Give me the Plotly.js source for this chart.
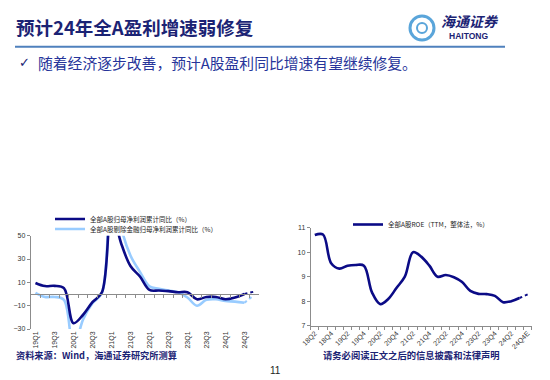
<!DOCTYPE html>
<html><head><meta charset="utf-8">
<script src="https://cdn.plot.ly/plotly-3.0.1.min.js"></script>
<style>html,body{margin:0;padding:0;background:#fff;} #chart{width:550px;height:380px;}</style>
</head><body><div id="chart"></div>
<script>
// ---- data ----
const quartersL = ['19Q1','19Q2','19Q3','19Q4','20Q1','20Q2','20Q3','20Q4','21Q1','21Q2','21Q3','21Q4','22Q1','22Q2','22Q3','22Q4','23Q1','23Q2','23Q3','23Q4','24Q1','24Q2','24Q3','24Q4E'];
const profitAll   = [9.5, 6.8, 7.0, 5.0, -25, -18, -7, 1.5, 72, 44, 24, 15, 3.5, 3.0, 2.5, 1.5, 1.5, -4.5, -2.5, -2.5, -4.5, -3.0, 0.0, 2.0];
const profitExFin = [1.0, -2.5, -2.5, -5.0, -48, -22, -8, 1.0, 115, 58, 33, 19, 6.5, 4.5, 3.0, 1.5, -3.0, -10, -5.0, -4.5, -6.0, -6.5, -7.5, -1.0];
const quartersR = ['18Q2','18Q3','18Q4','19Q1','19Q2','19Q3','19Q4','20Q1','20Q2','20Q3','20Q4','21Q1','21Q2','21Q3','21Q4','22Q1','22Q2','22Q3','22Q4','23Q1','23Q2','23Q3','23Q4','24Q1','24Q2','24Q3','24Q4E'];
const roeAll = [10.70, 10.72, 9.55, 9.33, 9.45, 9.48, 9.45, 8.35, 7.88, 8.10, 8.55, 9.00, 10.00, 9.82, 9.45, 9.00, 9.07, 8.98, 8.78, 8.42, 8.30, 8.29, 8.22, 7.96, 8.00, 8.13, 8.28];
const nameAll = '全部A股归母净利润累计同比（%）';
const nameExFin = '全部A股剔除金融归母净利润累计同比（%）';
const nameRoe = '全部A股ROE（TTM，整体法，%）';
const labelsL = quartersL.filter((q,i)=>i%2===0);
const labelsR = quartersR.map((q,i)=>i%2===0?q:'');

// ---- styling ----
const DARK = '#0B0B86', LIGHT = '#99CCFF', AX = '#8C8C8C';
const CJK = '"Noto Sans CJK SC", "Liberation Sans", sans-serif';
const LAT = '"Liberation Sans", Arial, sans-serif';
const px = v => v/550, py = v => 1 - v/380;
const nL = quartersL.length, nR = quartersR.length;

const traces = [
  {x: quartersL.slice(0, nL-1), y: profitExFin.slice(0, nL-1), xaxis:'x', yaxis:'y', mode:'lines', name: nameExFin,
   line:{color:LIGHT, width:2.6, shape:'spline', smoothing:1}, legend:'legend2', hoverinfo:'skip'},
  {x: quartersL.slice(nL-2), y: profitExFin.slice(nL-2), xaxis:'x', yaxis:'y', mode:'lines', showlegend:false,
   line:{color:LIGHT, width:2, dash:'dot'}, hoverinfo:'skip'},
  {x: quartersL.slice(0, nL-1), y: profitAll.slice(0, nL-1), xaxis:'x3', yaxis:'y', mode:'lines', name: nameAll,
   line:{color:DARK, width:2.6, shape:'spline', smoothing:1}, legend:'legend', hoverinfo:'skip'},
  {x: quartersL.slice(nL-2), y: profitAll.slice(nL-2), xaxis:'x3', yaxis:'y', mode:'lines', showlegend:false,
   line:{color:DARK, width:2, dash:'dot'}, hoverinfo:'skip'},
  {x: quartersR.slice(0, nR-1), y: roeAll.slice(0, nR-1), xaxis:'x2', yaxis:'y2', mode:'lines', name: nameRoe,
   line:{color:DARK, width:2.6, shape:'spline', smoothing:1}, legend:'legend3', hoverinfo:'skip'},
  {x: quartersR.slice(nR-2), y: roeAll.slice(nR-2), xaxis:'x2', yaxis:'y2', mode:'lines', showlegend:false,
   line:{color:DARK, width:2, dash:'dot'}, hoverinfo:'skip'}
];

const tickFont = {family: LAT, size: 7, color: '#333'};
const legFont = {family: CJK, size: 6.5, color: '#222'};
const legBase = {xanchor:'left', yanchor:'middle', bgcolor:'rgba(0,0,0,0)', font: legFont, itemwidth:30, borderwidth:0};

const layout = {
  width: 550, height: 380, margin:{l:0,r:0,t:0,b:0}, paper_bgcolor:'#fff', plot_bgcolor:'rgba(0,0,0,0)',
  font:{family: LAT},
  xaxis: {domain:[px(30.7), px(258.7)], anchor:'y', type:'category', range:[-0.5, nL-0.5],
    tickmode:'array', tickvals: labelsL, ticktext: labelsL, tickangle:-90, ticks:'', showline:false,
    showgrid:false, zeroline:false, tickfont: tickFont},
  xaxis3: {overlaying:'x', anchor:'free', position: py(294.2), type:'category', range:[-0.5, nL-0.5],
    tickmode:'array', tickvals: quartersL, tickson:'boundaries', ticks:'outside', ticklen:3, tickcolor:AX,
    showticklabels:false, showline:true, linecolor:AX, linewidth:1, showgrid:false, zeroline:false},
  yaxis: {domain:[py(329), py(235.7)], anchor:'x', range:[-30, 50], tickmode:'linear', tick0:-30, dtick:20,
    showline:true, linecolor:AX, ticks:'outside', ticklen:3, tickcolor:AX, showgrid:false, zeroline:false, tickfont: tickFont},
  xaxis2: {domain:[px(310.7), px(531.7)], anchor:'y2', type:'category', range:[-0.5, nR-0.5],
    tickmode:'array', tickvals: quartersR, ticktext: labelsR, tickson:'boundaries', tickangle:-45,
    ticks:'outside', ticklen:3, tickcolor:AX, showline:true, linecolor:AX, showgrid:false, zeroline:false, tickfont: tickFont},
  yaxis2: {domain:[py(325.7), py(227.7)], anchor:'x2', range:[7, 11], tickmode:'linear', tick0:7, dtick:1,
    showline:true, linecolor:AX, ticks:'outside', ticklen:3, tickcolor:AX, showgrid:false, zeroline:false, tickfont: tickFont},
  legend: Object.assign({x: px(50), y: py(219)}, legBase),
  legend2: Object.assign({x: px(50), y: py(229)}, legBase),
  legend3: Object.assign({x: px(348), y: py(224.5)}, legBase),
  shapes: [
    {type:'line', xref:'paper', yref:'paper', x0:px(15), x1:px(505), y0:py(46.7), y1:py(46.7), line:{color:'#4F81BD', width:2}},
    {type:'circle', xref:'paper', yref:'paper', x0:px(410), x1:px(434), y0:py(40), y1:py(16), line:{color:'#5AA5DA', width:3}},
    {type:'circle', xref:'paper', yref:'paper', x0:px(417), x1:px(427), y0:py(33), y1:py(23), line:{color:'#5AA5DA', width:2}}
  ],
  annotations: [
    {text:'<b>预计24年全A盈利增速弱修复</b>', x:px(14), y:py(27), xref:'paper', yref:'paper', xanchor:'left', yanchor:'middle',
     showarrow:false, font:{family: CJK, size:18.5, color:'#1B2374'}},
    {text:'<i><b>海通证券</b></i>', x:px(470), y:py(21), xref:'paper', yref:'paper', xanchor:'center', yanchor:'middle',
     showarrow:false, font:{family: CJK, size:14, color:'#1B2374'}},
    {text:'<b>HAITONG</b>', x:px(468), y:py(35.5), xref:'paper', yref:'paper', xanchor:'center', yanchor:'middle',
     showarrow:false, font:{family: LAT, size:8.5, color:'#1B2374'}},
    {text:'✓', x:px(17), y:py(63), xref:'paper', yref:'paper', xanchor:'left', yanchor:'middle',
     showarrow:false, font:{family: '"DejaVu Sans", sans-serif', size:13, color:'#1B2374'}},
    {text:'随着经济逐步改善，预计A股盈利同比增速有望继续修复。', x:px(36), y:py(63), xref:'paper', yref:'paper', xanchor:'left', yanchor:'middle',
     showarrow:false, font:{family: CJK, size:14.8, color:'#26349A'}},
    {text:'<b>资料来源：Wind，海通证券研究所测算</b>', x:px(14), y:py(355), xref:'paper', yref:'paper', xanchor:'left', yanchor:'middle',
     showarrow:false, font:{family: CJK, size:9.2, color:'#1B2374'}},
    {text:'<b>请务必阅读正文之后的信息披露和法律声明</b>', x:px(502), y:py(355), xref:'paper', yref:'paper', xanchor:'right', yanchor:'middle',
     showarrow:false, font:{family: CJK, size:9.3, color:'#1B2374'}},
    {text:'11', x:px(275), y:py(370), xref:'paper', yref:'paper', xanchor:'center', yanchor:'middle',
     showarrow:false, font:{family: LAT, size:10, color:'#222'}}
  ]
};

Plotly.newPlot('chart', traces, layout, {staticPlot:true, displayModeBar:false});
</script></body></html>
